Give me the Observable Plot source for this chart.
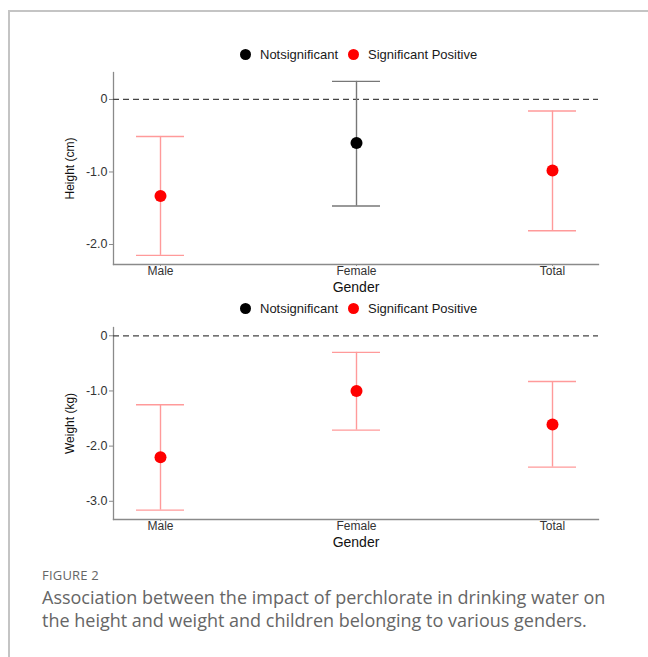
<!DOCTYPE html>
<html>
<head>
<meta charset="utf-8">
<script src="https://cdn.jsdelivr.net/npm/d3@7"></script>
<script src="https://cdn.jsdelivr.net/npm/@observablehq/plot@0.6"></script>
<style>
  body { margin: 0; background: #fff; }
  #root { position: relative; width: 648px; height: 657px; overflow: hidden; background: #fff; }
  #frame { position: absolute; left: 8px; top: 10px; width: 700px; height: 700px;
           border-top: 2px solid #c4c4c4; border-left: 2px solid #c4c4c4; }
  .legend { position: absolute; left: 240px; display: flex; justify-content: flex-start;
            align-items: center; font: 13px "Liberation Sans", Arial, sans-serif; color: #1a1a1a; }
  .legend .sw { display: inline-block; width: 11px; height: 11px; border-radius: 50%; margin-right: 9px; }
  .legend .item { display: inline-flex; align-items: center; margin-right: 10px; }
  .panel { position: absolute; left: 0; }
  .panel svg { background: transparent !important; }
  #cap1 { position: absolute; left: 42px; top: 566px; font: 13px "Open Sans", sans-serif; color: #666; letter-spacing: 0.2px; }
  #cap2 { position: absolute; left: 42px; top: 586px; width: 575px; font: 18px/23px "Open Sans", sans-serif; color: #666; }
</style>
</head>
<body>
<div id="root">
  <div id="frame"></div>
  <div class="panel" id="p1" style="top:64px;"></div>
  <div class="panel" id="p2" style="top:318px;"></div>
  <div class="legend" id="leg1" style="top:47px;"></div>
  <div class="legend" id="leg2" style="top:301px;"></div>
  <div id="cap1">FIGURE 2</div>
  <div id="cap2">Association between the impact of perchlorate in drinking water on the height and weight and children belonging to various genders.</div>
</div>
<script>
// ---- data ----
const genders = ["Male", "Female", "Total"];
const statusLabels = ["Notsignificant", "Significant Positive"];
const statusColors = ["#000000", "#ff0000"];
const barColors = ["#777777", "#ff9a9a"];

const heightMean = [-1.33, -0.60, -0.98];
const heightLower = [-2.15, -1.47, -1.81];
const heightUpper = [-0.51, 0.25, -0.16];
const heightStatus = ["Significant Positive", "Notsignificant", "Significant Positive"];
const heightTicks = [0, -1, -2];

const weightMean = [-2.20, -1.00, -1.61];
const weightLower = [-3.16, -1.71, -2.38];
const weightUpper = [-1.25, -0.30, -0.83];
const weightStatus = ["Significant Positive", "Significant Positive", "Significant Positive"];
const weightTicks = [0, -1, -2, -3];

function legend(el) {
  statusLabels.forEach((s, i) => {
    const it = document.createElement("span");
    it.className = "item";
    const sw = document.createElement("span");
    sw.className = "sw";
    sw.style.background = statusColors[i];
    it.appendChild(sw);
    it.appendChild(document.createTextNode(s));
    el.appendChild(it);
  });
}

function panel({mean, lower, upper, status, ticks, yLabel, yDomain, marginTop, marginBottom}) {
  const rows = genders.map((g, i) => ({gender: g, mean: mean[i], lower: lower[i], upper: upper[i], status: status[i]}));
  const barStroke = d => barColors[statusLabels.indexOf(d.status)];
  return Plot.plot({
    width: 648,
    height: 236,
    marginLeft: 113,
    marginRight: 50,
    marginTop,
    marginBottom,
    style: {fontFamily: "'Liberation Sans', Arial, sans-serif", background: "transparent"},
    x: {type: "band", domain: genders, paddingInner: 0.756, paddingOuter: 0.112},
    y: {domain: yDomain},
    color: {domain: statusLabels, range: statusColors},
    marks: [
      Plot.frame({anchor: "left", stroke: "#8a8a8a", strokeWidth: 1.3}),
      Plot.frame({anchor: "bottom", stroke: "#8a8a8a", strokeWidth: 1.3}),
      Plot.ruleY([0], {stroke: "#444", strokeWidth: 1.3, strokeDasharray: "6,4"}),
      Plot.ruleX(rows, {x: "gender", y1: "lower", y2: "upper", stroke: barStroke, strokeWidth: 1.4}),
      Plot.tickY(rows, {x: "gender", y: "lower", stroke: barStroke, strokeWidth: 1.4}),
      Plot.tickY(rows, {x: "gender", y: "upper", stroke: barStroke, strokeWidth: 1.4}),
      Plot.dot(rows, {x: "gender", y: "mean", fill: "status", r: 6}),
      Plot.axisX({tickSize: 2, tickPadding: 0, fontSize: 12, fill: "#333", stroke: "#8a8a8a",
        label: "Gender", labelAnchor: "center", labelOffset: 27.5, labelArrow: false}),
      Plot.axisY({ticks, tickSize: 4, tickPadding: 2, fontSize: 12.5, fill: "#333", stroke: "#8a8a8a",
        tickFormat: d => d === 0 ? "0" : d3.format(".1f")(d).replace("−", "-"),
        label: yLabel, labelAnchor: "center", labelOffset: 48, labelArrow: false})
    ]
  });
}

legend(document.getElementById("leg1"));
legend(document.getElementById("leg2"));

const s1 = panel({mean: heightMean, lower: heightLower, upper: heightUpper, status: heightStatus,
  ticks: heightTicks, yLabel: "Height (cm)", yDomain: [-2.276, 0.372], marginTop: 8, marginBottom: 36});
const s2 = panel({mean: weightMean, lower: weightLower, upper: weightUpper, status: weightStatus,
  ticks: weightTicks, yLabel: "Weight (kg)", yDomain: [-3.33, 0.15], marginTop: 9, marginBottom: 35});
document.getElementById("p1").appendChild(s1);
document.getElementById("p2").appendChild(s2);
for (const s of [s1, s2]) {
  s.querySelectorAll("g[aria-label='x-axis label'] text").forEach(t => { t.style.fontSize = "14px"; t.style.fill = "#111"; });
  s.querySelectorAll("g[aria-label='y-axis label'] text").forEach(t => { t.style.fontSize = "12px"; t.style.fill = "#111"; });
}
</script>
</body>
</html>
